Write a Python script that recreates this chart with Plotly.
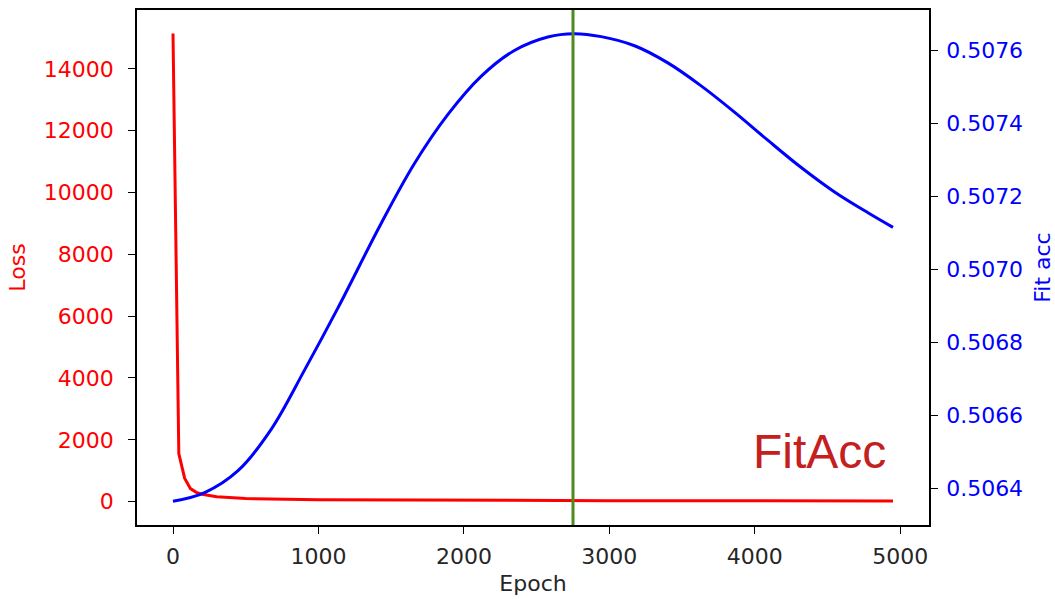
import plotly.graph_objects as go

# loss
loss_epochs = [0, 40, 80, 120, 160, 200, 300, 500, 1000, 2000, 3000, 4000, 4950]
loss_values = [15150, 1550, 760, 420, 300, 240, 160, 97, 60, 40, 30, 25, 22]

# fit accuracy
acc_epochs = [0, 218, 447, 676, 906, 1135, 1430, 1660, 1889, 2118, 2347, 2577,
              2756, 2944, 3173, 3402, 3631, 3860, 4089, 4319, 4548, 4778, 4950]
acc_values = [0.506364, 0.506388, 0.506448, 0.506562, 0.506725, 0.506895,
              0.507125, 0.507290, 0.507424, 0.507529, 0.507600, 0.507637,
              0.507646, 0.507638, 0.507613, 0.507566, 0.507503, 0.507431,
              0.507354, 0.507279, 0.507212, 0.507155, 0.507115]

best_epoch = 2750

loss_ticks = [0, 2000, 4000, 6000, 8000, 10000, 12000, 14000]
acc_ticks = [0.5064, 0.5066, 0.5068, 0.5070, 0.5072, 0.5074, 0.5076]
epoch_ticks = [0, 1000, 2000, 3000, 4000, 5000]

tick_font = dict(family='DejaVu Sans', size=22)

fig = go.Figure()
fig.add_trace(go.Scatter(x=loss_epochs, y=loss_values, mode='lines',
                         line=dict(color='#ff0000', width=3), name='Loss'))
fig.add_trace(go.Scatter(x=acc_epochs, y=acc_values, mode='lines', yaxis='y2',
                         line=dict(color='#0000ff', width=3, shape='spline',
                                   smoothing=1.0),
                         name='Fit acc'))

fig.add_vline(x=best_epoch, line=dict(color='#4f8a1e', width=3))

fig.add_annotation(text='FitAcc', xref='paper', yref='paper', x=0.948, y=0.142,
                   xanchor='right', yanchor='middle', showarrow=False,
                   font=dict(family='Liberation Sans', size=48, color='#c4201e'))

fig.update_layout(
    width=1055,
    height=599,
    margin=dict(l=137, r=126, t=10, b=74),
    plot_bgcolor='white',
    paper_bgcolor='white',
    showlegend=False,
    xaxis=dict(
        range=[-247.5, 5197.5], tickvals=epoch_ticks, automargin=False,
        showline=True, linecolor='black', linewidth=1.5, mirror=True,
        ticks='outside', ticklen=7, tickcolor='black',
        showgrid=False, zeroline=False,
        tickfont=dict(color='#262626', **tick_font), ticklabelstandoff=4,
        title=dict(text='Epoch', standoff=7,
                   font=dict(family='DejaVu Sans', size=22, color='#262626')),
    ),
    yaxis=dict(
        range=[-757, 15907], tickvals=loss_ticks, tickformat='d',
        automargin=False,
        showline=True, linecolor='black', linewidth=1.5,
        ticks='outside', ticklen=7, tickcolor='black',
        showgrid=False, zeroline=False,
        tickfont=dict(color='#ff0000', **tick_font), ticklabelstandoff=10,
        title=dict(text='Loss', standoff=12,
                   font=dict(family='DejaVu Sans', size=22, color='#ff0000')),
    ),
    yaxis2=dict(
        overlaying='y', side='right', automargin=False,
        range=[0.506299, 0.507711], tickvals=acc_ticks, tickformat='.4f',
        showline=True, linecolor='black', linewidth=1.5,
        ticks='outside', ticklen=7, tickcolor='black',
        showgrid=False, zeroline=False,
        tickfont=dict(color='#0000ff', **tick_font), ticklabelstandoff=4,
        title=dict(text='Fit acc', standoff=12,
                   font=dict(family='DejaVu Sans', size=22, color='#0000ff')),
    ),
)

# drop the default page margin so the figure sits at the window's corner
fig.write_html("out.html",
               config={'displayModeBar': False},
               post_script="document.body.style.margin='0';"
                           "document.body.style.overflow='hidden';")
